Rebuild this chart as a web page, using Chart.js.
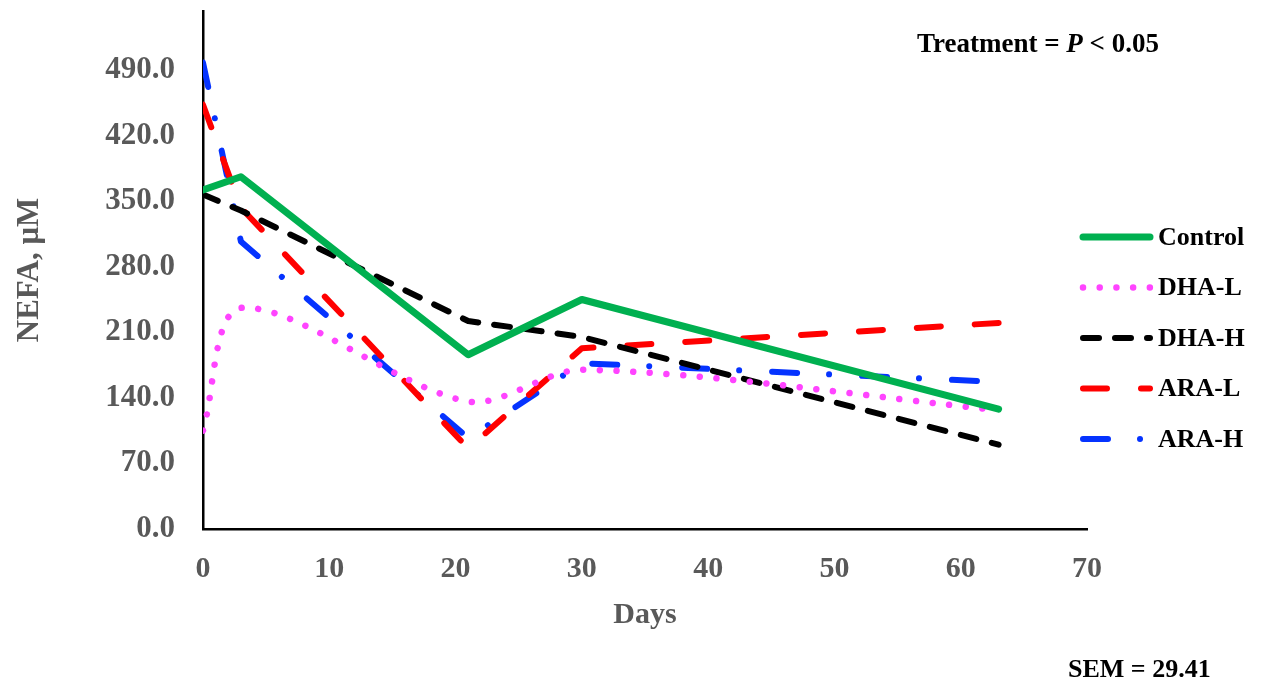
<!DOCTYPE html>
<html>
<head>
<meta charset="utf-8">
<script src="https://cdn.jsdelivr.net/npm/chart.js@4.4.0/dist/chart.umd.min.js"></script>
<style>
  html, body { margin: 0; padding: 0; background: #fff; }
  canvas { display: block; }
</style>
</head>
<body>
<canvas id="nefaChart" width="1261" height="684"></canvas>
<script>
// ----------------------------
// Daten
// ----------------------------
const days    = [0, 3, 21, 30, 63];
const control = [362, 376, 186, 245, 128];
const dhaL    = [105, 236, 136, 170, 127];
const dhaH    = [357, 340, 222, 205, 90];
const araL    = [453, 343, 86, 193, 220];
const araH    = [498, 307, 97, 177, 157];

const seriesNames = ['Control', 'DHA-L', 'DHA-H', 'ARA-L', 'ARA-H'];
const yTicks = [0, 70, 140, 210, 280, 350, 420, 490];
const xTicks = [0, 10, 20, 30, 40, 50, 60, 70];
const noteTreatment = ['Treatment = ', 'P', ' < 0.05'];
const noteSem = 'SEM = 29.41';

const FONT = '"Liberation Serif", "Times New Roman", serif';
const GREY = '#595959';

function toPoints(values) {
  return values.map((v, i) => ({ x: days[i], y: v }));
}

// Linienstile je Gruppe
const styles = [
  { color: '#00b050', width: 7,   dash: [],                 tension: 0 },
  { color: '#ff44ff', width: 6.5, dash: [0.01, 16.7],       tension: 0.3 },
  { color: '#000000', width: 6,   dash: [16, 16],           tension: 0 },
  { color: '#ff0000', width: 6,   dash: [24, 34],           tension: 0 },
  { color: '#0533ff', width: 6,   dash: [25, 32, 0.01, 33], tension: 0 }
];
const allValues = [control, dhaL, dhaH, araL, araH];

const datasets = allValues.map((vals, i) => ({
  label: seriesNames[i],
  data: toPoints(vals),
  borderColor: styles[i].color,
  backgroundColor: styles[i].color,
  borderWidth: styles[i].width,
  borderDash: styles[i].dash,
  borderCapStyle: 'round',
  borderJoinStyle: 'round',
  tension: styles[i].tension,
  pointRadius: 0,
  fill: false
}));

// Achsen-Innenabstände zurücksetzen, damit die Plotfläche fest liegt
function noPadding(scale) {
  scale.paddingTop = 0;
  scale.paddingBottom = 0;
  scale.paddingLeft = 0;
  scale.paddingRight = 0;
}

// ----------------------------
// Legende + Anmerkungen
// ----------------------------
const extrasPlugin = {
  id: 'extras',
  beforeDraw(chart) {
    const ctx = chart.ctx;
    ctx.save();
    ctx.fillStyle = '#fff';
    ctx.fillRect(0, 0, chart.width, chart.height);
    ctx.restore();
  },
  afterDraw(chart) {
    const ctx = chart.ctx;
    ctx.save();

    // Legende rechts
    const x0 = 1083, x1 = 1150, rowTop = 237, rowGap = 50.5;
    seriesNames.forEach((name, i) => {
      const y = rowTop + i * rowGap;
      ctx.beginPath();
      ctx.strokeStyle = styles[i].color;
      ctx.lineWidth = styles[i].width;
      ctx.lineCap = 'round';
      ctx.setLineDash(styles[i].dash);
      ctx.moveTo(x0, y);
      ctx.lineTo(x1, y);
      ctx.stroke();
      ctx.setLineDash([]);
      ctx.fillStyle = '#000';
      ctx.font = 'bold 26px ' + FONT;
      ctx.textBaseline = 'middle';
      ctx.textAlign = 'left';
      ctx.fillText(name, 1158, y + 1);
    });

    // Treatment = P < 0.05
    ctx.textBaseline = 'alphabetic';
    ctx.fillStyle = '#000';
    let tx = 917;
    noteTreatment.forEach((part, i) => {
      ctx.font = (i === 1 ? 'italic bold 27px ' : 'bold 27px ') + FONT;
      ctx.fillText(part, tx, 52);
      tx += ctx.measureText(part).width;
    });

    // SEM
    ctx.font = 'bold 26px ' + FONT;
    ctx.fillText(noteSem, 1068, 677);

    ctx.restore();
  }
};

new Chart(document.getElementById('nefaChart'), {
  type: 'line',
  data: { datasets: datasets },
  options: {
    responsive: false,
    maintainAspectRatio: false,
    animation: false,
    layout: { padding: { left: 0, right: 174, top: 11, bottom: 0 } },
    plugins: {
      legend: { display: false },
      tooltip: { enabled: false }
    },
    scales: {
      x: {
        type: 'linear',
        min: 0,
        max: 70,
        afterBuildTicks: (scale) => { scale.ticks = xTicks.map(v => ({ value: v })); },
        afterFit: (scale) => { scale.height = 155; noPadding(scale); },
        grid: { display: false, drawTicks: false },
        border: { display: true, color: '#000', width: 2.5 },
        ticks: {
          color: GREY,
          padding: 22,
          font: { family: FONT, size: 30, weight: 'bold' },
          maxRotation: 0
        },
        title: {
          display: true,
          text: 'Days',
          color: GREY,
          font: { family: FONT, size: 30, weight: 'bold' },
          padding: { top: 0, bottom: 51 }
        }
      },
      y: {
        min: 0,
        max: 553,
        afterBuildTicks: (scale) => { scale.ticks = yTicks.map(v => ({ value: v })); },
        afterFit: (scale) => { scale.width = 203; noPadding(scale); },
        grid: { display: false, drawTicks: false },
        border: { display: true, color: '#000', width: 2.5 },
        ticks: {
          color: GREY,
          padding: 28,
          font: { family: FONT, size: 31, weight: 'bold' },
          callback: (v) => Number(v).toFixed(1)
        },
        title: {
          display: true,
          text: 'NEFA, μM',
          color: GREY,
          font: { family: FONT, size: 31, weight: 'bold' },
          padding: { top: 11, bottom: 0 }
        }
      }
    }
  },
  plugins: [extrasPlugin]
});
</script>
</body>
</html>
